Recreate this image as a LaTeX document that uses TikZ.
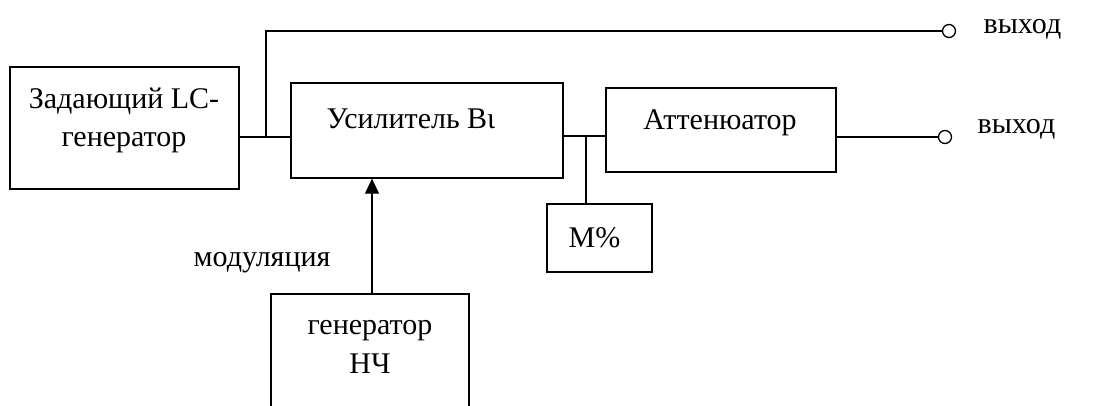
\documentclass[tikz,border=0pt]{standalone}
\usepackage{fontspec}
\setmainfont{Liberation Serif}
\usetikzlibrary{arrows.meta}
\begin{document}
\begin{tikzpicture}[x=1pt,y=-1pt, line width=1.3pt,
  box/.style={draw, rectangle, inner sep=0pt},
  lbl/.style={font=\fontsize{30}{38}\selectfont, inner sep=0pt},
  term/.style={draw, circle, minimum size=13pt, inner sep=0pt}]
\useasboundingbox (0,0) rectangle (1095,405);
\clip (0,0) rectangle (1095,405);
% boxes
\node[box, minimum width=229pt, minimum height=122pt] (b1) at (124.5,128) {};
\node[lbl, align=center] (t1) at (124,120) {Задающий LC-\\генератор};
\node[box, minimum width=272pt, minimum height=95pt] (b2) at (427,130.5) {};
\node[lbl, anchor=base west] (t2) at (326,128) {Усилитель Вι};
\node[box, minimum width=230pt, minimum height=84pt] (b3) at (721,130) {};
\node[lbl, anchor=base] (t3) at (720,129) {Аттенюатор};
\node[box, minimum width=105pt, minimum height=68pt] (b4) at (599.5,238) {};
\node[lbl, anchor=base] (t4) at (594.5,247) {М\%};
\node[box, minimum width=198pt, minimum height=130pt] (b5) at (370,359) {};
\node[lbl, anchor=base] (t5a) at (370,334) {генератор};
\node[lbl, anchor=base] (t5b) at (370,373) {НЧ};
\node[lbl, anchor=base west] (mod) at (193,266) {модуляция};
% terminals
\node[term] (o1) at (949,31) {};
\node[term] (o2) at (945,137) {};
\node[lbl, anchor=base west] (out1) at (983,33) {выход};
\node[lbl, anchor=base west] (out2) at (977,133) {выход};
% connectors
\coordinate (j1) at (266,137);
\coordinate (j2) at (586,136);
\coordinate (ax) at (372,0);
\draw (b1.east |- j1) -- (b2.west |- j1);
\draw (j1) |- (o1.west);
\draw (b2.east |- j2) -- (b3.west |- j2);
\draw (j2) -- (b4.north -| j2);
\draw (b3.east |- o2) -- (o2.west);
\draw[-{Triangle[width=14pt,length=15pt]}] (b5.north -| ax) -- (b2.south -| ax);
\end{tikzpicture}
\end{document}
